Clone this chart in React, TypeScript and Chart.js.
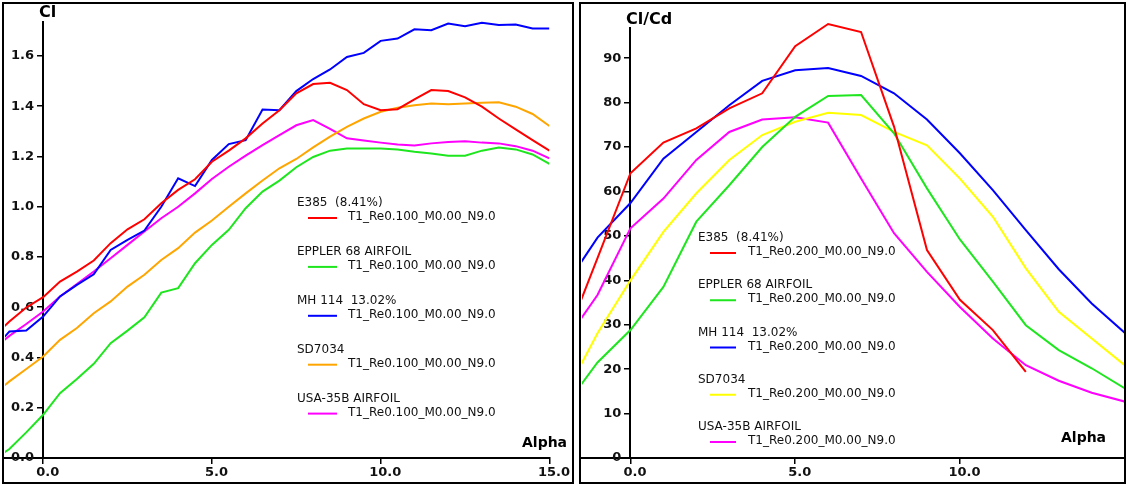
import React, { useEffect, useRef } from 'react';
import { Chart, registerables } from 'chart.js';

Chart.register(...registerables);

// ---------- Data: Cl vs Alpha (Re 0.100) ----------
const alphaCl = [-1.5, -1, -0.5, 0, 0.5, 1, 1.5, 2, 2.5, 3, 3.5, 4, 4.5, 5, 5.5, 6, 6.5, 7, 7.5, 8, 8.5, 9, 9.5, 10, 10.5, 11, 11.5, 12, 12.5, 13, 13.5, 14, 14.5, 15];
const clE385 = [0.48, 0.543, 0.599, 0.64, 0.702, 0.742, 0.786, 0.855, 0.91, 0.95, 1.014, 1.067, 1.109, 1.179, 1.223, 1.272, 1.331, 1.384, 1.451, 1.488, 1.493, 1.464, 1.408, 1.384, 1.388, 1.427, 1.464, 1.46, 1.435, 1.398, 1.351, 1.308, 1.265, 1.223];
const clEppler68 = [-0.01, 0.036, 0.102, 0.172, 0.258, 0.314, 0.375, 0.457, 0.507, 0.56, 0.658, 0.676, 0.775, 0.848, 0.908, 0.994, 1.06, 1.104, 1.157, 1.198, 1.223, 1.232, 1.232, 1.232, 1.228, 1.219, 1.212, 1.203, 1.203, 1.223, 1.236, 1.228, 1.208, 1.17];
const clMH114 = [0.43, 0.503, 0.507, 0.563, 0.643, 0.689, 0.731, 0.828, 0.868, 0.905, 1.0, 1.113, 1.082, 1.186, 1.249, 1.265, 1.387, 1.384, 1.46, 1.508, 1.546, 1.596, 1.612, 1.66, 1.669, 1.706, 1.702, 1.729, 1.718, 1.732, 1.723, 1.725, 1.709, 1.709];
const clSD7034 = [0.25, 0.305, 0.354, 0.404, 0.47, 0.517, 0.576, 0.623, 0.682, 0.729, 0.788, 0.835, 0.897, 0.945, 1.0, 1.053, 1.104, 1.153, 1.19, 1.236, 1.279, 1.318, 1.351, 1.378, 1.394, 1.404, 1.411, 1.408, 1.411, 1.414, 1.416, 1.398, 1.369, 1.321];
const clUSA35B = [0.43, 0.486, 0.533, 0.583, 0.643, 0.692, 0.742, 0.795, 0.848, 0.901, 0.954, 1.0, 1.053, 1.11, 1.159, 1.203, 1.245, 1.285, 1.324, 1.345, 1.31, 1.272, 1.263, 1.255, 1.248, 1.244, 1.252, 1.257, 1.26, 1.255, 1.252, 1.241, 1.223, 1.192];

// ---------- Data: Cl/Cd vs Alpha (Re 0.200) ----------
const alphaClCd = [-2, -1, 0, 1, 2, 3, 4, 5, 6, 7, 8, 9, 10, 11, 12, 13, 14, 15];
const clcdE385 = [26, 45, 64.1, 71.0, 74.2, 78.7, 82.1, 92.7, 97.7, 95.9, 74.6, 46.8, 35.6, 28.8, 19.4, null, null, null];
const clcdEppler68 = [11.5, 21.5, 28.8, 38.5, 53.2, 61.4, 70.0, 76.8, 81.5, 81.7, 73.1, 60.7, 49.2, 39.7, 29.9, 24.3, 20.2, 15.7];
const clcdMH114 = [38.5, 49.6, 57.4, 67.4, 73.4, 79.4, 84.9, 87.3, 87.8, 86.0, 82.1, 76.2, 68.6, 60.3, 51.3, 42.5, 34.8, 28.2];
const clcdSD7034 = [14.0, 28.1, 40.0, 50.9, 59.6, 67.1, 72.7, 75.7, 77.7, 77.2, 73.4, 70.4, 62.9, 54.3, 42.7, 32.9, 26.9, 20.9];
const clcdUSA35B = [26.0, 36.7, 51.7, 58.4, 67.1, 73.4, 76.2, 76.7, 75.5, 62.9, 50.6, 41.9, 34.0, 26.9, 20.9, 17.4, 14.7, 12.7];

// ---------- Labels / ticks ----------
const airfoilNames = ['E385  (8.41%)', 'EPPLER 68 AIRFOIL', 'MH 114  13.02%', 'SD7034', 'USA-35B AIRFOIL'];
const polarLeft = 'T1_Re0.100_M0.00_N9.0';
const polarRight = 'T1_Re0.200_M0.00_N9.0';
const xTickValues = [0, 5, 10, 15];
const clTickValues = [0, 0.2, 0.4, 0.6, 0.8, 1.0, 1.2, 1.4, 1.6];
const clcdTickValues = [0, 10, 20, 30, 40, 50, 60, 70, 80, 90];

const colorsLeft = ['#ff0000', '#1ee61e', '#0000ff', '#ffa500', '#ff00ff'];
const colorsRight = ['#ff0000', '#1ee61e', '#0000ff', '#ffff00', '#ff00ff'];

const FONT = '"DejaVu Sans", sans-serif';

const annotPlugin = {
  id: 'annot',
  afterDatasetsDraw(chart: any, _args: any, opts: any) {
    const ctx = chart.ctx as CanvasRenderingContext2D;
    ctx.save();
    ctx.fillStyle = '#000';
    ctx.textAlign = 'left';
    ctx.textBaseline = 'middle';
    ctx.font = `bold 16px ${FONT}`;
    ctx.fillText(opts.yTitle, opts.yTitleX, opts.yTitleY);
    ctx.font = `bold 14px ${FONT}`;
    ctx.textBaseline = 'alphabetic';
    ctx.fillText(opts.xTitle, opts.xTitleX, opts.xTitleY);
    // legend
    ctx.textBaseline = 'middle';
    ctx.font = `12px ${FONT}`;
    const L = opts.legend;
    chart.data.datasets.forEach((ds: any, i: number) => {
      const y = L.y + i * L.dy;
      ctx.fillStyle = '#111';
      ctx.fillText(ds.label, L.x, y);
      ctx.fillText(ds.polar, L.subX, y + 14);
      ctx.strokeStyle = ds.borderColor;
      ctx.lineWidth = 2;
      ctx.beginPath();
      ctx.moveTo(L.lineX1, y + 15);
      ctx.lineTo(L.lineX2, y + 15);
      ctx.stroke();
    });
    ctx.restore();
  },
};

function makeConfig(p: any): any {
  const seriesList = p.series;
  return {
    type: 'line',
    data: {
      datasets: seriesList.map((vals: (number | null)[], i: number) => ({
        label: airfoilNames[i],
        polar: p.polar,
        data: p.alpha.map((a: number, j: number) => ({ x: a, y: vals[j] })).filter((d: any) => d.y !== null),
        borderColor: p.colors[i],
        backgroundColor: p.colors[i],
        borderWidth: 2,
        pointRadius: 0,
        tension: 0,
        fill: false,
        clip: { left: 0, top: 8, right: 0, bottom: 0 },
      })),
    },
    options: {
      animation: false,
      responsive: false,
      events: [],
      layout: { padding: p.padding },
      plugins: {
        legend: { display: false },
        tooltip: { enabled: false },
        annot: p.annot,
      },
      scales: {
        x: {
          type: 'linear',
          position: { y: 0 },
          min: p.xMin,
          max: p.xMax,
          afterBuildTicks: (s: any) => {
            s.ticks = xTickValues.filter((v) => v >= s.min && v <= s.max).map((v) => ({ value: v }));
          },
          ticks: {
            callback: (v: number) => '  ' + v.toFixed(1),
            color: '#111',
            font: { family: FONT, size: 13, weight: 'bold' },
            maxRotation: 0,
            autoSkip: false,
            padding: 2,
          },
          grid: { display: true, drawOnChartArea: false, drawTicks: true, tickLength: 5, color: '#000', lineWidth: 1.5 },
          border: { display: true, color: '#000', width: 2 },
        },
        y: {
          type: 'linear',
          position: { x: 0 },
          min: p.yMin,
          max: p.yMax,
          afterBuildTicks: (s: any) => {
            s.ticks = p.yTicks.filter((v: number) => v >= s.min && v <= s.max).map((v: number) => ({ value: v }));
          },
          ticks: {
            callback: (v: number) => p.yFmt(v) + '  ',
            color: '#111',
            font: { family: FONT, size: 13, weight: 'bold' },
            autoSkip: false,
            padding: 3,
          },
          grid: { display: true, drawOnChartArea: false, drawTicks: true, tickLength: 5, color: '#000', lineWidth: 1.5 },
          border: { display: true, color: '#000', width: 2 },
        },
      },
    },
    plugins: [annotPlugin],
  };
}

function Panel(props: { left: number; width: number; config: any }) {
  const ref = useRef<HTMLCanvasElement>(null);
  useEffect(() => {
    const chart = new Chart(ref.current as HTMLCanvasElement, props.config);
    return () => chart.destroy();
  }, []);
  return (
    <div
      style={{
        position: 'absolute',
        left: props.left,
        top: 2,
        width: props.width,
        height: 478,
        border: '2px solid #000',
        background: '#fff',
      }}
    >
      <canvas ref={ref} width={props.width} height={478} style={{ display: 'block' }} />
    </div>
  );
}

const leftConfig = makeConfig({
  alpha: alphaCl,
  series: [clE385, clEppler68, clMH114, clSD7034, clUSA35B],
  colors: colorsLeft,
  polar: polarLeft,
  padding: { left: 1, right: 21, top: 18, bottom: 24 },
  xMin: -1.13,
  xMax: 15,
  yMin: 0,
  yMax: 1.735,
  yTicks: clTickValues,
  yFmt: (v: number) => v.toFixed(1),
  annot: {
    yTitle: 'Cl',
    yTitleX: 35,
    yTitleY: 9,
    xTitle: 'Alpha',
    xTitleX: 518,
    xTitleY: 443,
    legend: { x: 293, y: 199, dy: 48.9, subX: 344, lineX1: 304, lineX2: 333 },
  },
});

const rightConfig = makeConfig({
  alpha: alphaClCd,
  series: [clcdE385, clcdEppler68, clcdMH114, clcdSD7034, clcdUSA35B],
  colors: colorsRight,
  polar: polarRight,
  padding: { left: 1, right: 0, top: 24, bottom: 24 },
  xMin: -1.47,
  xMax: 14.98,
  yMin: 0,
  yMax: 96.8,
  yTicks: clcdTickValues,
  yFmt: (v: number) => String(Math.round(v)),
  annot: {
    yTitle: 'Cl/Cd',
    yTitleX: 45,
    yTitleY: 16,
    xTitle: 'Alpha',
    xTitleX: 480,
    xTitleY: 438,
    legend: { x: 117, y: 234, dy: 47.25, subX: 167, lineX1: 129, lineX2: 155 },
  },
});

export default function App() {
  return (
    <div style={{ position: 'absolute', left: 0, top: 0, width: 1128, height: 485, background: '#fff' }}>
      <Panel left={2} width={568} config={leftConfig} />
      <Panel left={579} width={543} config={rightConfig} />
    </div>
  );
}
